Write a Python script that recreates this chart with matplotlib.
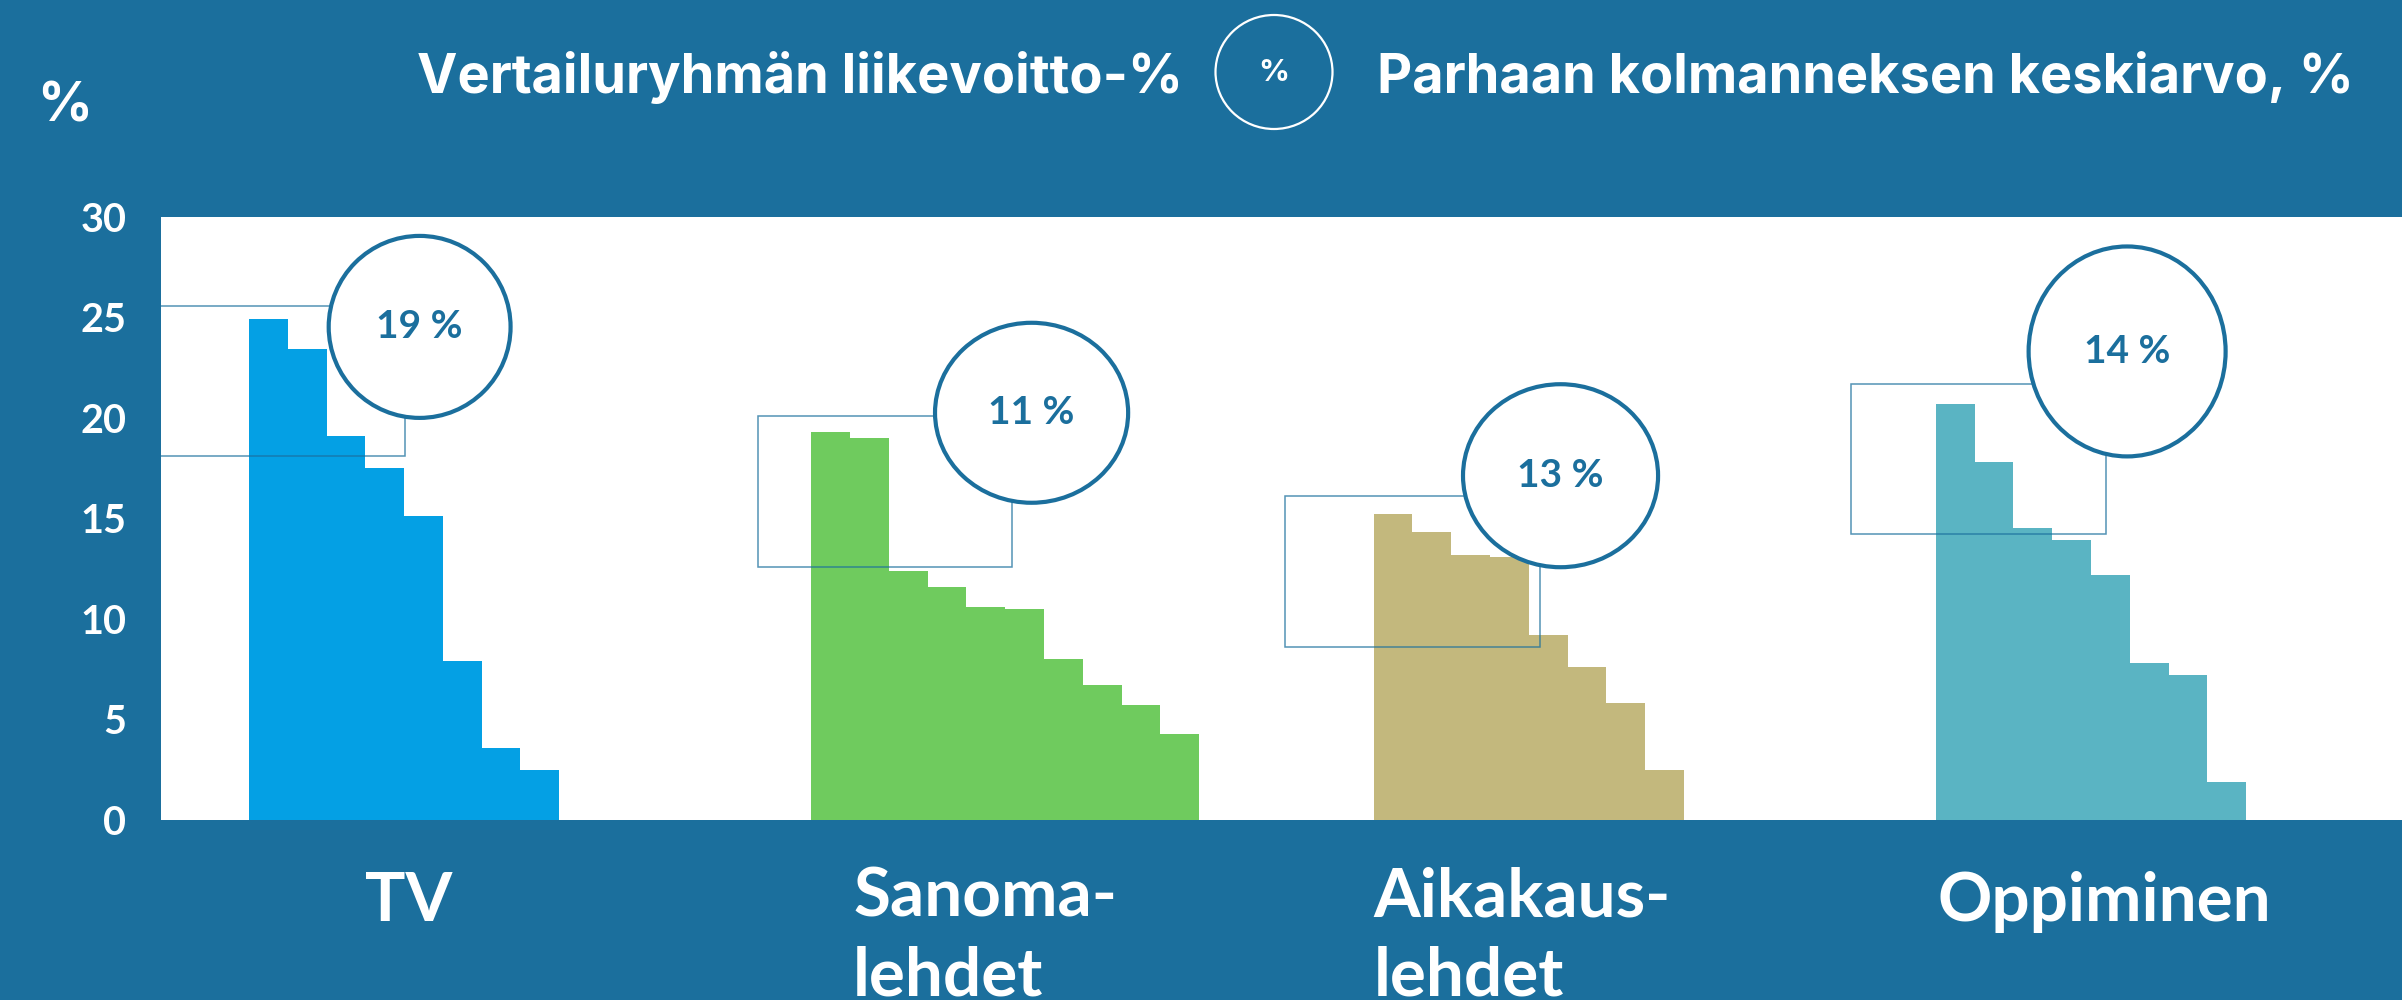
import matplotlib
matplotlib.use("Agg")
import matplotlib.pyplot as plt
from matplotlib.patches import Ellipse, Rectangle
from matplotlib.transforms import blended_transform_factory

# ---------------- data ----------------
categories = ["TV", "Sanoma-\nlehdet", "Aikakaus-\nlehdet", "Oppiminen"]
tv = [24.9, 23.4, 19.1, 17.5, 15.1, 7.9, 3.6, 2.5]
sanoma = [19.3, 19.0, 12.4, 11.6, 10.6, 10.5, 8.0, 6.7, 5.7, 4.3]
aikakaus = [15.2, 14.3, 13.2, 13.1, 9.2, 7.6, 5.8, 2.5]
oppiminen = [20.7, 17.8, 14.5, 13.9, 12.2, 7.8, 7.2, 1.9]
best_third_avg = [19, 11, 13, 14]          # value in circle, %
range_high = [25.55, 20.1, 16.1, 21.7]     # top of highlighted box
range_low = [18.1, 12.6, 8.6, 14.2]        # bottom of highlighted box
yticks = [0, 5, 10, 15, 20, 25, 30]
legend_left = "Vertailuryhmän liikevoitto-%"
legend_right = "Parhaan kolmanneksen keskiarvo, %"
y_unit = "%"

series = [tv, sanoma, aikakaus, oppiminen]

# ---------------- style / layout ----------------
BG = "#1B6F9D"
COLORS = ["#04A0E4", "#6FCB5E", "#C3B87D", "#5AB4C3"]
FONT = "Lato"
HFONT = "Inter"
GROUP_STEP = 14.5
rect_x = [(-3.0, 4.02), (-1.38, 5.18), (-2.29, 4.28), (-2.19, 4.39)]
circle_xy = [(4.40, 24.52), (5.68, 20.25), (4.82, 17.12), (4.93, 23.30)]
circle_wh = [(4.69, 9.05), (4.98, 8.95), (5.03, 9.10), (5.08, 10.44)]
label_dx = [3.0, 1.08, 0.0, 0.05]

W, H = 2402, 1000
fig = plt.figure(figsize=(W / 100, H / 100), dpi=100, facecolor=BG)
ax_left, ax_right, ax_top, ax_bottom = 161, 2402, 216.7, 820
ax = fig.add_axes([ax_left / W, 1 - ax_bottom / H, (ax_right - ax_left) / W,
                   (ax_bottom - ax_top) / H])
ax.set_facecolor("white")
for s in ax.spines.values():
    s.set_visible(False)

px_per_unit = 38.78
x0 = -(249 - ax_left) / px_per_unit
x1 = x0 + (ax_right - ax_left) / px_per_unit
ax.set_xlim(x0, x1)
ax.set_ylim(0, 30)

for g, vals in enumerate(series):
    start = g * GROUP_STEP
    xs = [start + i for i in range(len(vals))]
    ax.bar(xs, vals, width=1.0, align="edge", color=COLORS[g], linewidth=0, zorder=2)
    rx0, rx1 = rect_x[g]
    ax.add_patch(Rectangle((start + rx0, range_low[g]), rx1 - rx0,
                           range_high[g] - range_low[g], fill=False,
                           edgecolor=BG, alpha=0.75, linewidth=1.1, zorder=3))
    cx, cy = circle_xy[g]
    cw, ch = circle_wh[g]
    ax.add_patch(Ellipse((start + cx, cy), cw, ch, facecolor="white",
                         edgecolor=BG, linewidth=3.0, zorder=4))
    ax.text(start + cx, cy, f"{best_third_avg[g]} %", ha="center", va="center",
            fontsize=28, fontweight="bold", color=BG, family=FONT, zorder=5)

ax.set_xticks([])
ax.set_yticks(yticks)
ax.set_yticklabels([str(t) for t in yticks], fontsize=28.5, fontweight="bold",
                   color="white", family=FONT)
ax.tick_params(axis="y", length=0, pad=25)

# category labels (first-line baseline at y=921 px, line pitch 74 px)
trans = blended_transform_factory(ax.transData, fig.transFigure)
for g, cat in enumerate(categories):
    n_lines = cat.count("\n") + 1
    base_px = 921 + 74 * (n_lines - 1)
    ax.text(g * GROUP_STEP + label_dx[g], 1 - base_px / H, cat, transform=trans,
            ha="left", va="baseline", fontsize=48.5, fontweight="bold",
            color="white", family=FONT, linespacing=1.33, clip_on=False)

# header
fig.text(37 / W, 1 - 122 / H, y_unit, ha="left", va="baseline", fontsize=39,
         fontweight="bold", color="white", family=HFONT)
fig.text(1183 / W, 1 - 93 / H, legend_left, ha="right", va="baseline",
         fontsize=39, fontweight="bold", color="white", family=HFONT)
fig.text(1377 / W, 1 - 93 / H, legend_right, ha="left", va="baseline",
         fontsize=39, fontweight="bold", color="white", family=HFONT)
fig.add_artist(Ellipse((1274 / W, 1 - 72 / H), 117 / W, 114 / H,
                       transform=fig.transFigure, fill=False, edgecolor="white",
                       linewidth=1.6))
fig.text(1274 / W, 1 - 73 / H, "%", ha="center", va="center", fontsize=22,
         fontweight="bold", color="white", family=HFONT)

fig.savefig("out.png", dpi=100, facecolor=BG)
